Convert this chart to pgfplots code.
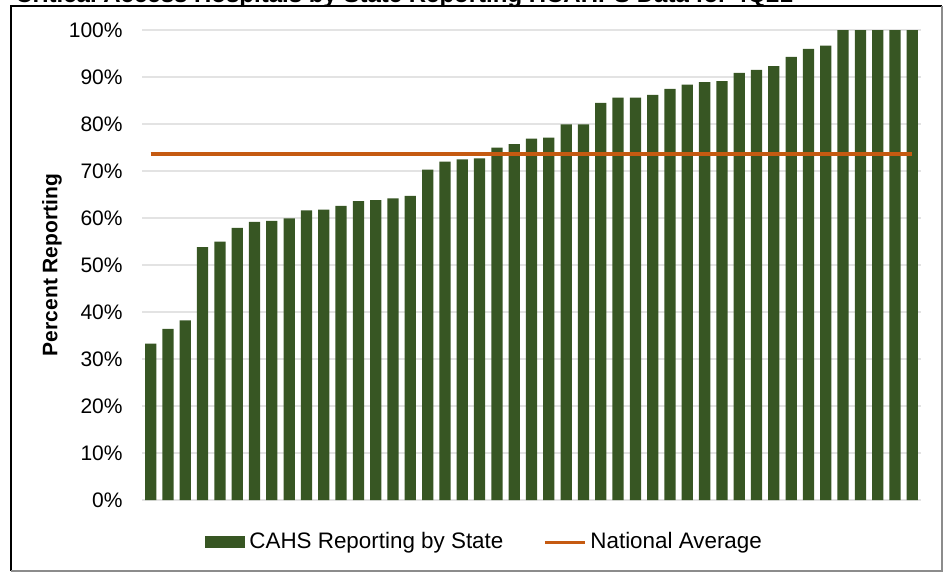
\documentclass[border=0pt]{standalone}
\usepackage{pgfplots}
\pgfplotsset{compat=1.18}
\usepackage{fontspec}
\setmainfont{Liberation Sans}
\definecolor{bargreen}{HTML}{375623}
\definecolor{avgorange}{HTML}{C55A11}
\definecolor{gridgray}{HTML}{E3E3E3}
\pgfplotstableread{
idx val
1 33.3
2 36.4
3 38.2
4 53.8
5 55.0
6 57.9
7 59.2
8 59.4
9 59.9
10 61.6
11 61.8
12 62.6
13 63.6
14 63.8
15 64.2
16 64.7
17 70.3
18 72.0
19 72.5
20 72.7
21 75.0
22 75.7
23 76.9
24 77.1
25 79.9
26 79.9
27 84.5
28 85.6
29 85.6
30 86.2
31 87.5
32 88.4
33 88.9
34 89.1
35 90.9
36 91.5
37 92.3
38 94.3
39 96.0
40 96.7
41 100
42 100
43 100
44 100
45 100
}\statedata
\begin{document}
\begin{tikzpicture}[font=\fontsize{10.5}{12.6}\selectfont]
\useasboundingbox (0pt,0pt) rectangle (472.5pt,-286.5pt);
\clip (0pt,0pt) rectangle (472.5pt,-286.5pt);
\node[anchor=base west, font=\fontsize{12}{14.4}\selectfont\bfseries, inner sep=0pt] at (7.5pt,-1.5pt) {Critical Access Hospitals by State Reporting HCAHPS Data for 4Q21};
\begin{axis}[
  at={(71pt,-250pt)}, anchor=south west,
  scale only axis, width=389.5pt, height=235pt,
  xmin=0.5, xmax=45.5, ymin=0, ymax=100,
  xtick=\empty,
  ytick={0,10,...,100},
  yticklabel={\pgfmathprintnumber[assume math mode=true]{\tick}\%},
  yticklabel style={anchor=east, inner sep=0pt, xshift=-9.5pt, font=\fontsize{10.5}{12.6}\selectfont},
  ymajorgrids, grid style={gridgray, line width=0.6pt},
  axis line style={draw=none},
  major tick style={draw=none},
  clip=false,
  legend columns=2,
  legend style={draw=none, fill=none, inner sep=0pt,
    at={(axis description cs:0.0809,-0.0894)}, anchor=west,
    font=\fontsize{11.2}{13.4}\selectfont,
    /tikz/every even column/.append style={column sep=18pt}},
]
\addplot[ybar, bar width=0.65, fill=bargreen, draw=none,
  legend image code/.code={\fill[bargreen] (0pt,-3pt) rectangle (20pt,3pt);}]
  table[x=idx, y=val]{\statedata};
\addlegendentry{CAHS Reporting by State}
\addplot[avgorange, line width=2pt, mark=none,
  legend image code/.code={\draw[avgorange, line width=1.5pt] (0pt,0pt) -- (20pt,0pt);}]
  coordinates {(1,73.6) (45,73.6)};
\addlegendentry{National Average}
\end{axis}
\node[rotate=90, font=\fontsize{10.5}{12.6}\selectfont\bfseries] at (26pt,-132.5pt) {Percent Reporting};
\draw[black, line width=0.8pt] (5.5pt,-285.5pt) -- (5.5pt,-3pt) -- (471pt,-3pt);
\draw[black!45, line width=0.8pt] (471pt,-3pt) -- (471pt,-285.5pt) -- (5.5pt,-285.5pt);
\end{tikzpicture}
\end{document}
